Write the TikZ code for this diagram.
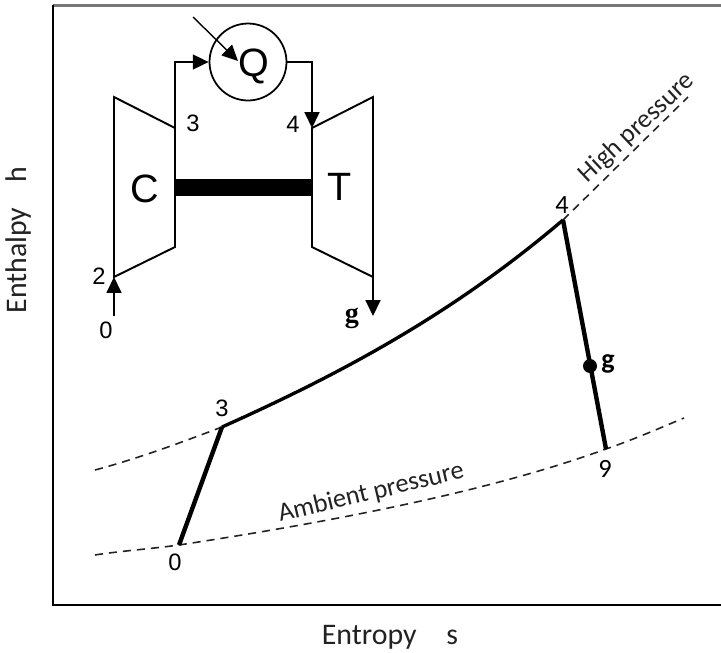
\documentclass[tikz,border=0pt]{standalone}
\usepackage{fontspec}
\usepackage{xcolor}
\usepackage{tikz}
\setmainfont{Liberation Sans}
\newfontfamily\labelfont{Carlito}
\newfontfamily\serifbold{Liberation Serif}[BoldFont={Liberation Serif Bold}]
\usetikzlibrary{positioning,arrows.meta,calc}
\definecolor{ink}{HTML}{000000}
\definecolor{dashink}{HTML}{222222}
\definecolor{framegray}{HTML}{777777}
\definecolor{labelink}{HTML}{222222}

\begin{document}
\begin{tikzpicture}[x=0.02cm,y=-0.02cm,every node/.style={text=ink,inner sep=0pt},
    flow/.style={line width=0.8pt,-{Triangle[length=9pt,width=8.5pt]}},
    unit/.style={line width=1.1pt,line join=miter},
    path3/.style={line width=2.5pt},
    isobar/.style={line width=0.9pt,dash pattern=on 4.6pt off 3.4pt,dashink},
    num/.style={font=\fontsize{13.5}{15}\selectfont},
    big/.style={font=\fontsize{22.5}{26}\selectfont},
    axislab/.style={font=\labelfont\fontsize{17}{20}\selectfont,text=labelink},
    curvelab/.style={font=\labelfont\fontsize{15}{18}\selectfont,text=labelink}]
  \useasboundingbox (0,0) rectangle (721,653);
  % frame
  \draw[line width=1.2pt,framegray] (53,5.5) -- (721,5.5);
  \draw[line width=1.4pt] (53,5) -- (53,605) -- (721,605);
  \node[axislab,rotate=90] (ylab) at (19,240) {Enthalpy\hspace{0.85em}h};
  \node[axislab] (xlab) at (390,637) {Entropy\hspace{1em}s};
  % engine sketch
  \coordinate (c1) at (114,97);
  \coordinate (c2) at (175,128);
  \coordinate (c3) at (175,247);
  \coordinate (c4) at (114,277);
  \coordinate (t1) at (312,128);
  \coordinate (t2) at (373,97);
  \coordinate (t3) at (373,277);
  \coordinate (t4) at (312,247);
  \draw[unit] (c1) -- (c2) -- (c3) -- (c4) -- cycle;
  \draw[unit] (t1) -- (t2) -- (t3) -- (t4) -- cycle;
  \fill[ink] (175,179) rectangle (312,196);
  \node[draw,circle,line width=1pt,minimum size=1.54cm] (burner) at (248,62) {};
  \coordinate (in0) at (114,316);
  \coordinate (outg) at (373,316);
  \coordinate (qin) at (193,17);
  \coordinate (qtip) at (238,61);
  \draw[flow] (c2) |- (burner.west);
  \draw[flow] (burner.east) -| (t1);
  \draw[flow] (in0) -- (c4);
  \draw[flow] (t3) -- (outg);
  \draw[flow] (qin) -- (qtip);
  \node[big] (qlab) at (254,66) {Q};
  \node[big] (clab) at (145,189) {C};
  \node[big] (tlab) at (340,187) {T};
  \node[num] (n3) at (193,123) {3};
  \node[num] (n4) at (293,124) {4};
  \node[num] (n2) at (99,276) {2};
  \node[num] (n0) at (106,330) {0};
  \node[font=\serifbold\bfseries\fontsize{16}{18}\selectfont] (glab) at (352,318) {g};
  % h-s diagram
  \coordinate (s0) at (179,545);
  \coordinate (s3) at (222,427);
  \coordinate (s4) at (563,220);
  \coordinate (s9) at (606,449);
  \coordinate (sg) at (590,366);
  \draw[isobar] (95,470) .. controls (140,458) and (185,441) .. (s3);
  \draw[isobar] (s4) -- (688,97);
  \draw[isobar] (95,555) .. controls (120,551) and (150,549) .. (s0)
     .. controls (310,525) and (480,495) .. (s9) .. controls (635,439) and (660,428) .. (684,418);
  \draw[path3] (s0) -- (s3);
  \draw[line width=1.9pt] (s3) .. controls (345,372) and (455,312) .. (s4);
  \draw[path3] (s4) -- (s9);
  \node[circle,fill=ink,minimum size=0.28cm] (gdot) at (sg) {};
  \node[font=\labelfont\bfseries\fontsize{16}{18}\selectfont] (gpt) at (608,364) {g};
  \node[num] (p3) at (222,408) {3};
  \node[num] (p0) at (175,562) {0};
  \node[font=\labelfont\fontsize{15}{18}\selectfont] (p4) at (562,205) {4};
  \node[font=\labelfont\fontsize{15}{18}\selectfont] (p9) at (605,469) {9};
  \node[curvelab,rotate=43] (hp) at (637,128) {High pressure};
  \node[curvelab,rotate=13.4] (ap) at (371,493) {Ambient pressure};
\end{tikzpicture}
\end{document}
